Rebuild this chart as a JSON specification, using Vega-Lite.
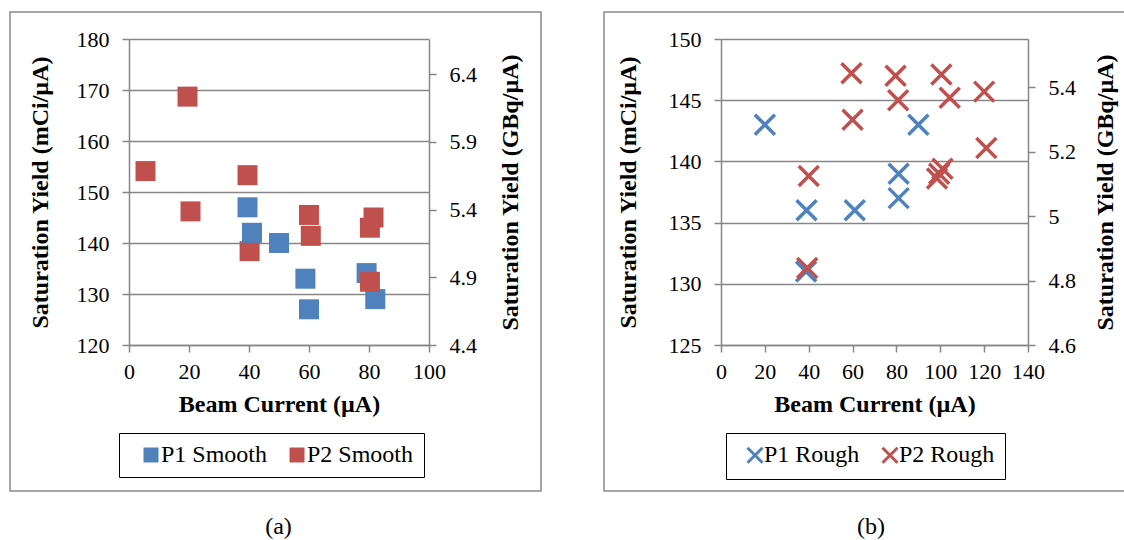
{
  "$schema": "https://vega.github.io/schema/vega-lite/v6.json",
  "padding": {"left": 9, "top": 11, "right": 0, "bottom": 0},
  "background": "white",
  "spacing": 61,
  "config": {
    "view": {"stroke": "#898989", "strokeWidth": 1.5},
    "axis": {
      "labelFont": "Liberation Serif", "labelFontSize": 22, "labelColor": "black", "labelOverlap": false, "labelFlush": false,
      "titleFont": "Liberation Serif", "titleFontSize": 24, "titleFontWeight": "bold", "titleColor": "black",
      "domainColor": "#868686", "domainWidth": 1.5, "tickColor": "#868686", "tickWidth": 1.5, "tickSize": 7,
      "gridColor": "#868686", "gridWidth": 1.5, "labelPadding": 10
    },
    "legend": {"labelFont": "Liberation Serif", "labelFontSize": 24, "labelColor": "black"},
    "title": {"font": "Liberation Serif", "fontSize": 24, "fontWeight": "normal", "color": "black"}
  },
  "datasets": {
    "smooth": [
      {"x": 5.5, "y": 154.1, "s": "P2 Smooth"},
      {"x": 19.5, "y": 168.7, "s": "P2 Smooth"},
      {"x": 20.5, "y": 146.2, "s": "P2 Smooth"},
      {"x": 39.5, "y": 153.3, "s": "P2 Smooth"},
      {"x": 40.2, "y": 138.4, "s": "P2 Smooth"},
      {"x": 60, "y": 145.5, "s": "P2 Smooth"},
      {"x": 60.6, "y": 141.4, "s": "P2 Smooth"},
      {"x": 81.5, "y": 145, "s": "P2 Smooth"},
      {"x": 80.3, "y": 143, "s": "P2 Smooth"},
      {"x": 39.5, "y": 147, "s": "P1 Smooth"},
      {"x": 41, "y": 142, "s": "P1 Smooth"},
      {"x": 50, "y": 140, "s": "P1 Smooth"},
      {"x": 58.8, "y": 133, "s": "P1 Smooth"},
      {"x": 60, "y": 127, "s": "P1 Smooth"},
      {"x": 79.2, "y": 134.1, "s": "P1 Smooth"},
      {"x": 82.1, "y": 129, "s": "P1 Smooth"},
      {"x": 80.3, "y": 132.4, "s": "P2 Smooth"}
    ],
    "rough": [
      {"x": 20, "y": 143, "s": "P1 Rough"},
      {"x": 39, "y": 136, "s": "P1 Rough"},
      {"x": 61, "y": 136, "s": "P1 Rough"},
      {"x": 81, "y": 139, "s": "P1 Rough"},
      {"x": 81, "y": 137, "s": "P1 Rough"},
      {"x": 90, "y": 143, "s": "P1 Rough"},
      {"x": 38.8, "y": 131, "s": "P1 Rough"},
      {"x": 59.5, "y": 147.2, "s": "P2 Rough"},
      {"x": 60, "y": 143.4, "s": "P2 Rough"},
      {"x": 40, "y": 138.8, "s": "P2 Rough"},
      {"x": 39.3, "y": 131.3, "s": "P2 Rough"},
      {"x": 79.6, "y": 147, "s": "P2 Rough"},
      {"x": 80.8, "y": 145, "s": "P2 Rough"},
      {"x": 100.5, "y": 147.1, "s": "P2 Rough"},
      {"x": 104.3, "y": 145.2, "s": "P2 Rough"},
      {"x": 120, "y": 145.7, "s": "P2 Rough"},
      {"x": 121, "y": 141.1, "s": "P2 Rough"},
      {"x": 98.5, "y": 138.6, "s": "P2 Rough"},
      {"x": 99.5, "y": 139, "s": "P2 Rough"},
      {"x": 101, "y": 139.4, "s": "P2 Rough"}
    ],
    "gbqA": [{"g": 4.4}, {"g": 6.66}],
    "gbqB": [{"g": 4.6}, {"g": 5.55}]
  },
  "resolve": {"scale": {"x": "independent", "y": "independent", "color": "independent"}},
  "hconcat": [
    {
      "width": 531, "height": 479,
      "title": {"text": "(a)", "orient": "bottom", "offset": 24, "dx": 3},
      "resolve": {"scale": {"y": "independent"}, "axis": {"y": "independent"}},
      "layer": [
        {
          "data": {"name": "smooth"},
          "mark": {"type": "point", "shape": "square", "filled": true, "size": 400, "opacity": 1},
          "encoding": {
            "x": {"field": "x", "type": "quantitative",
              "scale": {"domain": [0, 100], "range": [119, 419], "nice": false, "zero": false},
              "axis": {"title": "Beam Current (µA)", "values": [0, 20, 40, 60, 80, 100], "offset": -146, "grid": false, "titlePadding": 10, "labelPadding": 9}},
            "y": {"field": "y", "type": "quantitative",
              "scale": {"domain": [120, 180], "range": [333, 27], "nice": false, "zero": false},
              "axis": {"title": "Saturation Yield (mCi/µA)", "values": [120, 130, 140, 150, 160, 170, 180], "offset": -119, "grid": true, "labelPadding": 13, "titlePadding": 24}},
            "color": {"field": "s", "type": "nominal",
              "scale": {"domain": ["P1 Smooth", "P2 Smooth"], "range": ["#4F81BD", "#C0504D"]},
              "legend": {"title": null, "orient": "none", "legendX": 109, "legendY": 421, "direction": "horizontal",
                "strokeColor": "black", "fillColor": "white", "padding": 10,
                "symbolType": "square", "symbolSize": 225, "columnPadding": 7, "labelOffset": -2, "symbolOffset": 10}}
          }
        },
        {
          "data": {"name": "gbqA"},
          "mark": {"type": "point", "opacity": 0},
          "encoding": {
            "y": {"field": "g", "type": "quantitative",
              "scale": {"domain": [4.4, 6.66], "range": [333, 27], "nice": false, "zero": false},
              "axis": {"orient": "right", "title": "Saturation Yield  (GBq/µA)", "values": [4.4, 4.9, 5.4, 5.9, 6.4], "format": ".1~f", "offset": -112, "grid": false, "labelPadding": 13, "titlePadding": 22, "titleAngle": 270, "titleBaseline": "top"}}
          }
        }
      ]
    },
    {
      "width": 522, "height": 479,
      "title": {"text": "(b)", "orient": "bottom", "offset": 24, "dx": 6},
      "resolve": {"scale": {"y": "independent"}, "axis": {"y": "independent"}},
      "layer": [
        {
          "data": {"name": "rough"},
          "mark": {"type": "point", "shape": "M-1,-1L1,1M-1,1L1,-1", "filled": false, "size": 400, "strokeWidth": 3.5, "opacity": 1},
          "encoding": {
            "x": {"field": "x", "type": "quantitative",
              "scale": {"domain": [0, 140], "range": [117, 424], "nice": false, "zero": false},
              "axis": {"title": "Beam Current (µA)", "values": [0, 20, 40, 60, 80, 100, 120, 140], "offset": -146, "grid": false, "titlePadding": 10, "labelPadding": 9}},
            "y": {"field": "y", "type": "quantitative",
              "scale": {"domain": [125, 150], "range": [333, 27], "nice": false, "zero": false},
              "axis": {"title": "Saturation Yield (mCi/µA)", "values": [125, 130, 135, 140, 145, 150], "offset": -117, "grid": true, "labelPadding": 13, "titlePadding": 28}},
            "color": {"field": "s", "type": "nominal",
              "scale": {"domain": ["P1 Rough", "P2 Rough"], "range": ["#4F81BD", "#C0504D"]},
              "legend": {"title": null, "orient": "none", "legendX": 122, "legendY": 421, "direction": "horizontal",
                "strokeColor": "black", "fillColor": "white", "padding": 10,
                "symbolType": "M-1,-1L1,1M-1,1L1,-1", "symbolSize": 225, "symbolStrokeWidth": 3, "columnPadding": 11, "labelOffset": -3, "symbolOffset": 7}}
          }
        },
        {
          "data": {"name": "gbqB"},
          "mark": {"type": "point", "opacity": 0},
          "encoding": {
            "y": {"field": "g", "type": "quantitative",
              "scale": {"domain": [4.6, 5.55], "range": [333, 27], "nice": false, "zero": false},
              "axis": {"orient": "right", "title": "Saturation Yield (GBq/µA)", "values": [4.6, 4.8, 5, 5.2, 5.4], "format": ".1~f", "offset": -98, "grid": false, "labelPadding": 13, "titlePadding": 18, "titleAngle": 270, "titleBaseline": "top"}}
          }
        }
      ]
    }
  ]
}
